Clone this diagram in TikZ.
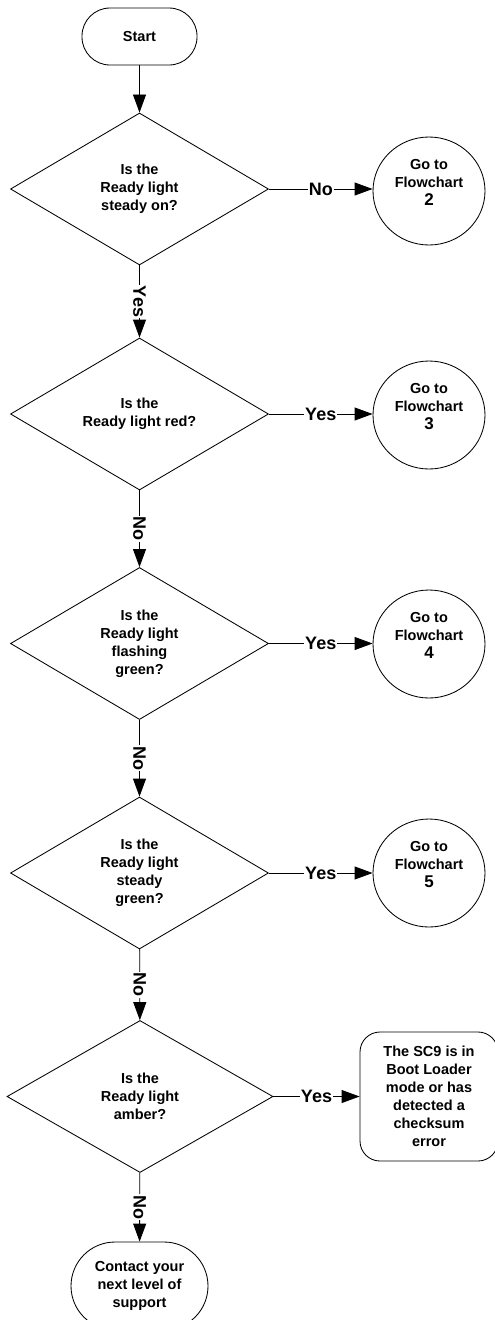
\documentclass[tikz,border=0pt]{standalone}
\usepackage{fontspec}
\setmainfont{Liberation Sans}
\usetikzlibrary{arrows.meta,shapes.geometric,positioning}

\begin{document}
\begin{tikzpicture}
    [x=1pt,y=-1pt,line width=0.85pt,
     body/.style={font=\bfseries\fontsize{14.5}{18}\selectfont,align=center,inner sep=0pt},
     decision/.style={body,draw,diamond,aspect=1.7,minimum width=258pt,minimum height=152pt},
     goto/.style={body,draw,ellipse,minimum width=112pt,minimum height=108pt},
     terminal/.style={body,draw,rectangle,rounded corners=#1},
     flow/.style={-{Triangle[length=18pt,width=13pt]}},
     answer/.style={midway,fill=white,inner sep=0.8pt,font=\bfseries\fontsize{18}{18}\selectfont}]
    \def\big#1{{\fontsize{17}{18}\selectfont #1}}

    % main column
    \node[terminal=28pt,minimum width=115pt,minimum height=57pt] (start) at (139.5,36.5) {Start};
    \node[decision] (q1) at (139.5,189) {Is the\\Ready light\\steady on?};
    \node[decision] (q2) at (139.5,414) {Is the\\Ready light red?};
    \node[decision] (q3) at (139.5,643.5) {Is the\\Ready light\\flashing\\green?};
    \node[decision] (q4) at (139.5,873) {Is the\\Ready light\\steady\\green?};
    \node[decision,minimum width=266pt] (q5) at (140,1096.5) {Is the\\Ready light\\amber?};
    \node[terminal=44pt,minimum width=137pt,minimum height=88pt] (support) at (139.5,1286) {Contact your\\next level of\\support};

    % right column
    \node[goto] (fc2) at (429,191) {Go to\\Flowchart\\\big{2}\\\mbox{}};
    \node[goto] (fc3) at (429,415) {Go to\\Flowchart\\\big{3}\\\mbox{}};
    \node[goto] (fc4) at (429,644) {Go to\\Flowchart\\\big{4}\\\mbox{}};
    \node[goto] (fc5) at (429,873) {Go to\\Flowchart\\\big{5}\\\mbox{}};
    \node[terminal=20pt,minimum width=138pt,minimum height=129pt] (boot) at (429,1096.5)
        {The SC9 is in\\Boot Loader\\mode or has\\detected a\\checksum\\error};

    % down the column
    \draw[flow] (start) -- (q1);
    \draw[flow] (q1) -- (q2) node[answer,rotate=-90]{Yes};
    \draw[flow] (q2) -- (q3) node[answer,rotate=-90]{No};
    \draw[flow] (q3) -- (q4) node[answer,rotate=-90]{No};
    \draw[flow] (q4) -- (q5) node[answer,rotate=-90]{No};
    \draw[flow] (q5) -- (support) node[answer,rotate=-90]{No};

    % across
    \draw[flow] (q1) -- (q1 -| fc2.west) node[answer]{No};
    \draw[flow] (q2) -- (q2 -| fc3.west) node[answer]{Yes};
    \draw[flow] (q3) -- (q3 -| fc4.west) node[answer]{Yes};
    \draw[flow] (q4) -- (q4 -| fc5.west) node[answer]{Yes};
    \draw[flow] (q5) -- (boot) node[answer]{Yes};

    \pgfresetboundingbox
    \useasboundingbox (0,0) rectangle (495,1320);
\end{tikzpicture}
\end{document}
